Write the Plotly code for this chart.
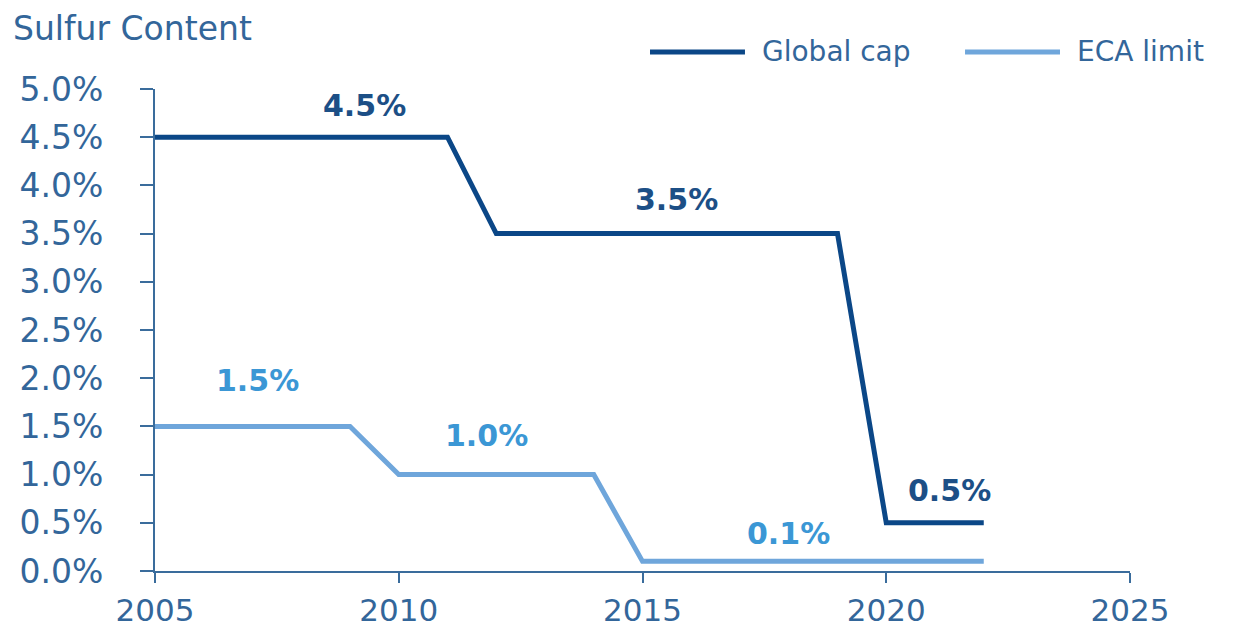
import plotly.graph_objects as go

# ---- data ----
global_years = [2005, 2011, 2012, 2019, 2020, 2022]
global_cap = [4.5, 4.5, 3.5, 3.5, 0.5, 0.5]
eca_years = [2005, 2009, 2010, 2014, 2015, 2022]
eca_limit = [1.5, 1.5, 1.0, 1.0, 0.1, 0.1]

# value labels: text, x anchor (year), y anchor (value)
global_labels = ["4.5%", "3.5%", "0.5%"]
global_label_x = [2009.3, 2015.7, 2021.3]
global_label_y = [4.83, 3.85, 0.84]
eca_labels = ["1.5%", "1.0%", "0.1%"]
eca_label_x = [2007.1, 2011.8, 2018.0]
eca_label_y = [1.98, 1.41, 0.39]

y_ticks = [0.0, 0.5, 1.0, 1.5, 2.0, 2.5, 3.0, 3.5, 4.0, 4.5, 5.0]
y_ticktext = [f"{v:.1f}%" for v in y_ticks]
x_ticks = [2005, 2010, 2015, 2020, 2025]

DARK = "#0b4787"
LIGHT = "#6fa6db"
AXIS = "#3a6c9c"
TEXT = "#33669a"
FONT = "DejaVu Sans"

fig = go.Figure()
fig.add_trace(go.Scatter(x=global_years, y=global_cap, mode="lines", name="Global cap",
                         line=dict(color=DARK, width=5), showlegend=False))
fig.add_trace(go.Scatter(x=eca_years, y=eca_limit, mode="lines", name="ECA limit",
                         line=dict(color=LIGHT, width=5), showlegend=False))

for t, x, y in zip(global_labels, global_label_x, global_label_y):
    fig.add_annotation(x=x, y=y, text=t, showarrow=False,
                       font=dict(family=FONT, size=30, color="#1c4f86", weight="bold"))
for t, x, y in zip(eca_labels, eca_label_x, eca_label_y):
    fig.add_annotation(x=x, y=y, text=t, showarrow=False,
                       font=dict(family=FONT, size=30, color="#3b97d5", weight="bold"))

# manual legend (long line symbols as in the reference)
leg_y = 1.077
fig.add_shape(type="line", xref="paper", yref="paper", x0=0.5077, x1=0.6051, y0=leg_y, y1=leg_y,
              line=dict(color=DARK, width=5))
fig.add_annotation(xref="paper", yref="paper", x=0.6205, y=leg_y, text="Global cap",
                   showarrow=False, xanchor="left", yanchor="middle",
                   font=dict(family=FONT, size=28, color=TEXT))
fig.add_shape(type="line", xref="paper", yref="paper", x0=0.8308, x1=0.9282, y0=leg_y, y1=leg_y,
              line=dict(color=LIGHT, width=5))
fig.add_annotation(xref="paper", yref="paper", x=0.9436, y=leg_y, text="ECA limit",
                   showarrow=False, xanchor="left", yanchor="middle",
                   font=dict(family=FONT, size=28, color=TEXT))

fig.update_layout(
    width=1235, height=630,
    margin=dict(l=155, r=105, t=89, b=59, autoexpand=False),
    plot_bgcolor="white", paper_bgcolor="white",
    title=dict(text="Sulfur Content", x=0.0105, xanchor="left", y=0.955, yanchor="middle",
               font=dict(family=FONT, size=33, color=TEXT)),
    showlegend=False,
)
fig.update_xaxes(range=[2005, 2025], tickvals=x_ticks, showgrid=False, zeroline=False,
                 showline=True, linecolor=AXIS, linewidth=2,
                 ticks="outside", ticklen=10, tickwidth=2, tickcolor=AXIS,
                 tickfont=dict(family=FONT, size=31, color=TEXT), ticklabelstandoff=1)
fig.update_yaxes(range=[0, 5], tickvals=y_ticks, ticktext=y_ticktext, showgrid=False, zeroline=False,
                 showline=True, linecolor=AXIS, linewidth=2,
                 ticks="outside", ticklen=13, tickwidth=2, tickcolor=AXIS,
                 tickfont=dict(family=FONT, size=33, color=TEXT), ticklabelstandoff=30)

fig.write_html("out.html", config={"displayModeBar": False},
               post_script="document.body.style.margin='0';document.body.style.overflow='hidden';")
